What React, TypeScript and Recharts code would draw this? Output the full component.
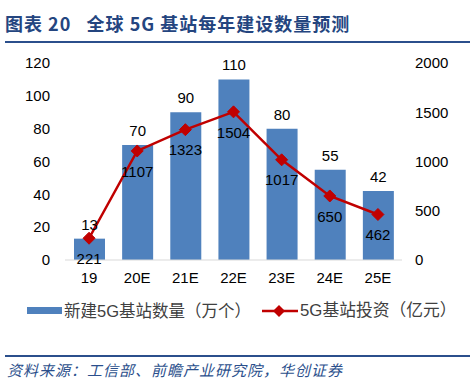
import React from 'react';
import { ComposedChart, Bar, Line, XAxis, YAxis, LabelList } from 'recharts';

const categories = ['19', '20E', '21E', '22E', '23E', '24E', '25E'];
const stations = [13, 70, 90, 110, 80, 55, 42];
const investment = [221, 1107, 1323, 1504, 1017, 650, 462];
const leftTicks = [0, 20, 40, 60, 80, 100, 120];
const rightTicks = [0, 500, 1000, 1500, 2000];

const data = categories.map((c, i) => ({ cat: c, stations: stations[i], investment: investment[i] }));

const BLUE = '#4F81BD';
const RED = '#C00000';
const NAVY = '#2B4F8C';
const FONT = 'Arial, "Liberation Sans", "Noto Sans CJK SC", sans-serif';

const Diamond = (props: any) => {
  const { cx, cy } = props;
  if (cx == null || cy == null) return null;
  const r = 6;
  return <polygon points={`${cx},${cy - r} ${cx + r},${cy} ${cx},${cy + r} ${cx - r},${cy}`} fill={RED} stroke={RED} />;
};

export default function App() {
  return (
    <div style={{ position: 'fixed', left: 0, top: 0, width: 474, height: 388, background: '#fff', fontFamily: FONT, overflow: 'hidden' }}>
      <div style={{ position: 'absolute', left: 5, top: 10, fontSize: 18, fontWeight: 700, color: '#24457F', fontFamily: '"Noto Sans CJK SC", sans-serif', whiteSpace: 'pre', letterSpacing: 1, lineHeight: '26px' }}>
        {'图表 20   全球 5G 基站每年建设数量预测'}
      </div>
      <div style={{ position: 'absolute', left: 5, top: 41, width: 465, height: 2, background: NAVY }} />
      <div style={{ position: 'absolute', left: 0, top: 0 }}>
        <ComposedChart width={474} height={388} data={data} margin={{ top: 63, right: 0, left: 0, bottom: 98 }}>
          <XAxis dataKey="cat" tickLine={false} tickSize={0} tickMargin={12} axisLine={{ stroke: '#D9D9D9', strokeWidth: 1 }} tick={{ fill: '#000', fontSize: 15, fontFamily: FONT }} interval={0} height={30} />
          <YAxis yAxisId="left" orientation="left" width={65} domain={[0, 120]} ticks={leftTicks} axisLine={false} tickLine={false} tickSize={0} tickMargin={15} tick={{ fill: '#000', fontSize: 15, fontFamily: FONT }} interval={0} />
          <YAxis yAxisId="right" orientation="right" width={72} domain={[0, 2000]} ticks={rightTicks} axisLine={false} tickLine={false} tickSize={0} tickMargin={13} tick={{ fill: '#000', fontSize: 15, fontFamily: FONT }} interval={0} />
          <Bar yAxisId="left" dataKey="stations" fill={BLUE} barSize={31} isAnimationActive={false}>
            <LabelList dataKey="stations" position="top" offset={9} fill="#000" fontSize={15} fontFamily={FONT} />
          </Bar>
          <Line yAxisId="right" dataKey="investment" stroke={RED} strokeWidth={2.5} dot={<Diamond />} activeDot={false} isAnimationActive={false} type="linear">
            <LabelList dataKey="investment" position="bottom" offset={15} fill="#000" fontSize={15} fontFamily={FONT} />
          </Line>
        </ComposedChart>
      </div>
      <div style={{ position: 'absolute', left: 27, top: 307, width: 35, height: 7, background: BLUE }} />
      <div style={{ position: 'absolute', left: 64, top: 300, fontSize: 16.5, color: '#404040', whiteSpace: 'pre', lineHeight: '22px', fontFamily: FONT }}>新建5G基站数量（万个）</div>
      <svg style={{ position: 'absolute', left: 260, top: 302 }} width={40} height={18}>
        <line x1={2} y1={9} x2={38} y2={9} stroke={RED} strokeWidth={2.5} />
        <polygon points="19,3 25,9 19,15 13,9" fill={RED} />
      </svg>
      <div style={{ position: 'absolute', left: 300, top: 300, fontSize: 16.8, color: '#404040', whiteSpace: 'pre', lineHeight: '22px', fontFamily: FONT }}>5G基站投资（亿元）</div>
      <div style={{ position: 'absolute', left: 5, top: 355, width: 465, height: 2, background: NAVY }} />
      <div style={{ position: 'absolute', left: 7, top: 360, fontSize: 15, fontStyle: 'italic', color: NAVY, whiteSpace: 'pre', lineHeight: '20px', letterSpacing: 1, fontFamily: '"Noto Sans CJK SC", sans-serif' }}>资料来源：工信部、前瞻产业研究院，华创证券</div>
    </div>
  );
}
